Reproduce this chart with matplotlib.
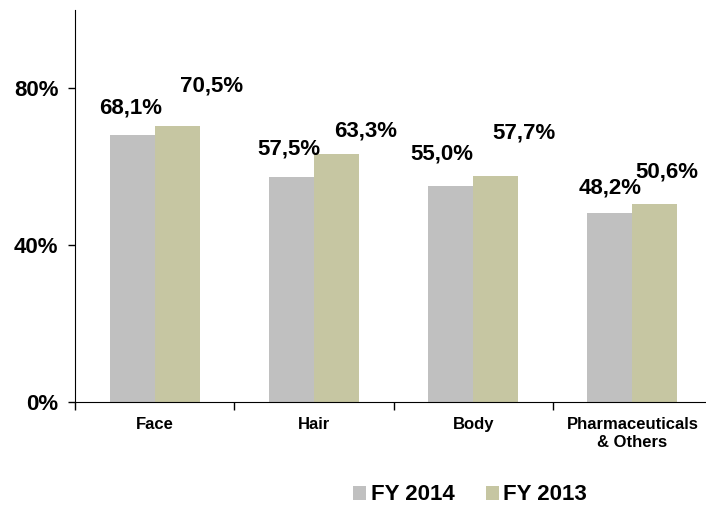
import numpy as np
import matplotlib.pyplot as plt
from matplotlib.ticker import FuncFormatter

categories = ['Face', 'Hair', 'Body', 'Pharmaceuticals\n& Others']
fy2014 = [68.1, 57.5, 55.0, 48.2]
fy2013 = [70.5, 63.3, 57.7, 50.6]
series_names = ['FY 2014', 'FY 2013']

# hand-placed label nudges (pixels) as in the original slide
off_2014 = [(-1, 17), (-2, 17), (-9, 22), (0, 15)]
off_2013 = [(34, 29), (29, 12), (28, 32), (12, 21)]

plt.rcParams['font.family'] = ['Liberation Sans', 'DejaVu Sans']
plt.rcParams['font.weight'] = 'bold'

fig = plt.figure(figsize=(7.06, 5.05), dpi=100)
ax = fig.add_axes([75 / 706, 103 / 505, 637 / 706, 392 / 505])

x = np.arange(len(categories))
w = 0.283
b1 = ax.bar(x - w / 2, fy2014, w, color='#C0C0C0', label=series_names[0])
b2 = ax.bar(x + w / 2, fy2013, w, color='#C6C6A2', label=series_names[1])

def fmt(v):
    return f'{v:.1f}%'.replace('.', ',')

for bars, vals, offs in [(b1, fy2014, off_2014), (b2, fy2013, off_2013)]:
    for r, v, (dx, dy) in zip(bars, vals, offs):
        ax.annotate(fmt(v), (r.get_x() + r.get_width() / 2, v),
                    xytext=(dx, dy), textcoords='offset pixels',
                    ha='center', va='bottom', fontsize=16, fontweight='bold')

ax.set_xlim(-0.5, 3.5)
ax.set_ylim(0, 100)
ax.set_yticks([0, 40, 80])
ax.yaxis.set_major_formatter(FuncFormatter(lambda v, p: f'{v:.0f}%'))
ax.tick_params(axis='y', length=5, width=1, pad=7, labelsize=16)

ax.set_xticks(x)
ax.set_xticklabels(categories, fontsize=12, fontweight='bold', linespacing=1.25)
ax.set_xticks(np.arange(-0.5, 4, 1), minor=True)
ax.tick_params(axis='x', which='major', length=0, pad=11)
ax.tick_params(axis='x', which='minor', length=6, width=1)

for s in ['top', 'right']:
    ax.spines[s].set_visible(False)

fig.legend(handles=[b1, b2], loc='center', bbox_to_anchor=(470 / 706, 1 - 495 / 505),
           ncol=2, frameon=False, handlelength=0.6, handleheight=0.6,
           handletextpad=0.2, columnspacing=1.4, prop={'weight': 'bold', 'size': 16})

fig.savefig('out.png', dpi=100)
